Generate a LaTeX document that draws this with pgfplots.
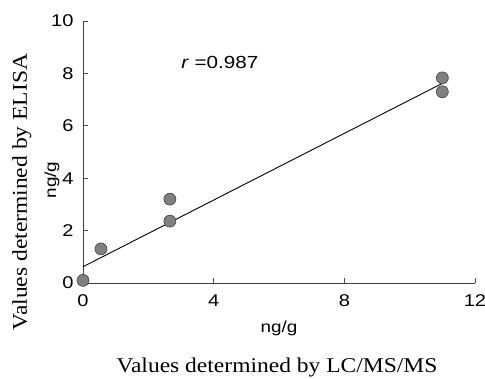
\documentclass[border=0pt]{standalone}
\usepackage{fontspec}
\setmainfont{Liberation Serif}[FakeStretch=1.12]
\setsansfont{Liberation Sans}[FakeStretch=1.18]
\usepackage{pgfplots}
\pgfplotsset{compat=1.18}
\begin{document}
\begin{tikzpicture}
\useasboundingbox (-83pt,-96pt) rectangle (402pt,283pt);
\begin{axis}[
  scale only axis, width=392pt, height=262pt,
  xmin=0, xmax=12, ymin=0, ymax=10,
  axis lines=left, axis line style={-, black!75, line width=0.7pt},
  xtick={0,4,8,12}, ytick={0,2,4,6,8,10},
  tick align=inside, major tick length=5pt,
  tick style={black!70, line width=0.6pt},
  /pgf/number format/assume math mode=true,
  ticklabel style={font=\sffamily\fontsize{17}{17}\selectfont},
  xticklabel style={yshift=-8pt},
  yticklabel style={xshift=-6pt},
  clip=false,
]
\addplot[only marks, mark=*, mark size=6pt, mark options={fill=black!50, draw=black!75, line width=0.6pt}]
  coordinates {(0,0.1) (0.55,1.3) (2.66,3.2) (2.66,2.36) (11,7.83) (11,7.3)};
\addplot[black, line width=0.9pt] coordinates {(0,0.62) (11,7.62)};
\node[anchor=west, font=\sffamily\fontsize{17.5}{17.5}\selectfont] at (axis cs:2.9,8.4) {\textit{r} =0.987};
\node[rotate=90, font=\fontsize{21}{21}\selectfont] at (rel axis cs:-0.156,0.347) {Values determined by ELISA};
\node[rotate=90, font=\sffamily\fontsize{16}{16}\selectfont] at (rel axis cs:-0.079,0.393) {ng/g};
\node[font=\sffamily\fontsize{16}{16}\selectfont] at (rel axis cs:0.5,-0.172) {ng/g};
\node[font=\fontsize{21}{21}\selectfont] at (rel axis cs:0.495,-0.321) {Values determined by LC/MS/MS};
\end{axis}
\end{tikzpicture}
\end{document}
